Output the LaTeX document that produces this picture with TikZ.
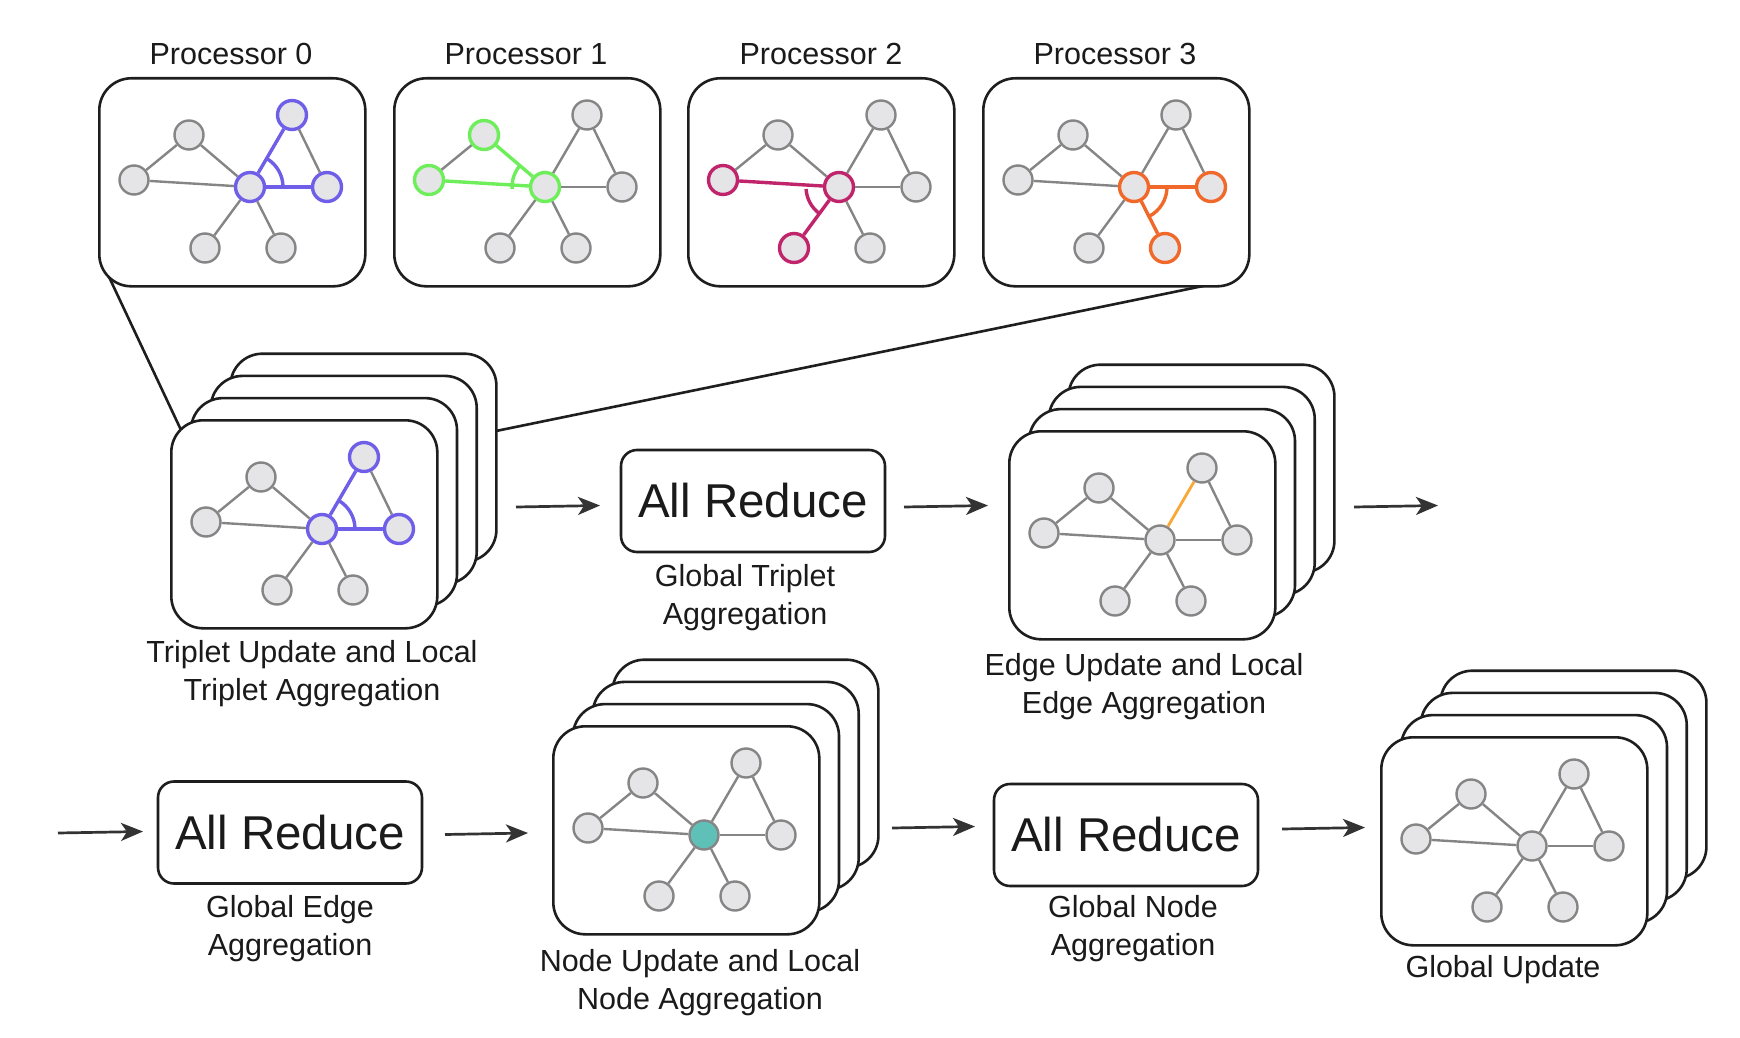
\documentclass[tikz,border=0pt]{standalone}
\usepackage{fontspec}
\setmainfont{Liberation Sans}
\usetikzlibrary{arrows.meta}
\definecolor{gedge}{HTML}{858585}
\definecolor{nfill}{HTML}{E5E5E8}
\definecolor{boxc}{HTML}{1E1E1E}
\definecolor{txt}{HTML}{1A1A1A}
\definecolor{arrc}{HTML}{333333}
\definecolor{purp}{HTML}{6F5FE8}
\definecolor{grn}{HTML}{6EEE5A}
\definecolor{crim}{HTML}{C0256B}
\definecolor{orng}{HTML}{F0692A}
\definecolor{yorng}{HTML}{F7A836}
\definecolor{teal}{HTML}{5FC0B8}
\tikzset{
  gnode/.style={circle, draw=gedge, fill=nfill, line width=2.4pt, minimum size=29pt, inner sep=0pt},
  gline/.style={draw=gedge, line width=2.4pt},
  pbox/.style={draw=boxc, fill=white, line width=2.6pt, rounded corners=32pt, minimum width=266pt, minimum height=208pt, anchor=north west, inner sep=0pt},
  rbox/.style={draw=boxc, fill=white, line width=2.6pt, rounded corners=16pt, minimum width=264pt, minimum height=102pt, inner sep=0pt, font=\fontsize{47.5}{56}\selectfont, text=txt},
  lbl/.style={font=\fontsize{30.5}{37.5}\selectfont, text=txt, align=center},
  flow/.style={draw=arrc, line width=2.7pt, -{Stealth[length=22pt, width=18pt, inset=6pt]}},
  link/.style={draw=boxc, line width=2.6pt},
  nTL/.style={}, nL/.style={}, nC/.style={}, nTR/.style={}, nR/.style={}, nBL/.style={}, nBR/.style={},
  eTLL/.style={}, eTLC/.style={}, eLC/.style={}, eCTR/.style={}, eTRR/.style={}, eCR/.style={}, eCBL/.style={}, eCBR/.style={},
  hln/.style={draw=#1, line width=3.4pt},
  hle/.style={draw=#1, line width=3.4pt},
  hla/.style={draw=#1, line width=3.4pt},
}
\newcommand{\gnet}[3]{%
\begin{scope}[shift={(#2,#3)}]
 \node[gnode,nTL] (#1TL) at (91,58) {};
 \node[gnode,nL] (#1L) at (36,103) {};
 \node[gnode,nC] (#1C) at (152,110) {};
 \node[gnode,nTR] (#1TR) at (194,38) {};
 \node[gnode,nR] (#1R) at (229,110) {};
 \node[gnode,nBL] (#1BL) at (107,171) {};
 \node[gnode,nBR] (#1BR) at (183,171) {};
 \draw[gline,eTLL] (#1TL) -- (#1L);
 \draw[gline,eTLC] (#1TL) -- (#1C);
 \draw[gline,eLC] (#1L) -- (#1C);
 \draw[gline,eCTR] (#1C) -- (#1TR);
 \draw[gline,eTRR] (#1TR) -- (#1R);
 \draw[gline,eCR] (#1C) -- (#1R);
 \draw[gline,eCBL] (#1C) -- (#1BL);
 \draw[gline,eCBR] (#1C) -- (#1BR);
\end{scope}}
\newcommand{\stackbox}[3]{%
 \node[pbox] (#1d) at (#2+59.1,#3-66.6) {};
 \node[pbox] (#1c) at (#2+39.4,#3-44.4) {};
 \node[pbox] (#1b) at (#2+19.7,#3-22.2) {};
 \node[pbox] (#1a) at (#2,#3) {};}
\begin{document}
\begin{tikzpicture}[x=1pt,y=-1pt]
\useasboundingbox[fill=white] (0,0) rectangle (1740,1038);

% links from processors to triplet stack
\coordinate (c0a) at (102,262);
\coordinate (c0b) at (181,430);
\coordinate (c3a) at (1208,285);
\coordinate (c3b) at (496,431);
\draw[link] (c0a) -- (c0b);
\draw[link] (c3a) -- (c3b);

% processor boxes
\node[pbox] (p0box) at (98,77) {};
\node[pbox] (p1box) at (393,77) {};
\node[pbox] (p2box) at (687,77) {};
\node[pbox] (p3box) at (982,77) {};
\node[lbl] (p0lab) at (231,54.5) {Processor 0};
\node[lbl] (p1lab) at (526,54.5) {Processor 1};
\node[lbl] (p2lab) at (821,54.5) {Processor 2};
\node[lbl] (p3lab) at (1115,54.5) {Processor 3};

\begin{scope}[nC/.style={hln=purp}, nTR/.style={hln=purp}, nR/.style={hln=purp}, eCTR/.style={hle=purp}, eCR/.style={hle=purp}]
 \gnet{pa}{98}{77}
\end{scope}
\draw[hla=purp] (paC.center) ++(0:33) arc[start angle=0, end angle=-60, radius=33];

\begin{scope}[nC/.style={hln=grn}, nTL/.style={hln=grn}, nL/.style={hln=grn}, eTLC/.style={hle=grn}, eLC/.style={hle=grn}]
 \gnet{pb}{393}{77}
\end{scope}
\draw[hla=grn] (pbC.center) ++(-139.6:33) arc[start angle=-139.6, end angle=-183.5, radius=33];

\begin{scope}[nC/.style={hln=crim}, nL/.style={hln=crim}, nBL/.style={hln=crim}, eLC/.style={hle=crim}, eCBL/.style={hle=crim}]
 \gnet{pc}{687}{77}
\end{scope}
\draw[hla=crim] (pcC.center) ++(-183.5:33) arc[start angle=-183.5, end angle=-233.6, radius=33];

\begin{scope}[nC/.style={hln=orng}, nR/.style={hln=orng}, nBR/.style={hln=orng}, eCR/.style={hle=orng}, eCBR/.style={hle=orng}]
 \gnet{pd}{982}{77}
\end{scope}
\draw[hla=orng] (pdC.center) ++(63:33) arc[start angle=63, end angle=0, radius=33];

% triplet stack
\stackbox{ts}{170}{419}
\begin{scope}[nC/.style={hln=purp}, nTR/.style={hln=purp}, nR/.style={hln=purp}, eCTR/.style={hle=purp}, eCR/.style={hle=purp}]
 \gnet{tg}{170}{419}
\end{scope}
\draw[hla=purp] (tgC.center) ++(0:33) arc[start angle=0, end angle=-60, radius=33];
\node[lbl] (tslab) at (312,673.5) {Triplet Update and Local\\Triplet Aggregation};

% all reduce 1
\node[rbox] (ar1) at (753,501) {All Reduce};
\node[lbl] (ar1lab) at (745,597.5) {Global Triplet\\Aggregation};

% edge stack
\stackbox{es}{1008}{430}
\begin{scope}[eCTR/.style={hle=yorng, line width=2.8pt}]
 \gnet{eg}{1008}{430}
\end{scope}
\node[lbl] (eslab) at (1144,686.5) {Edge Update and Local\\Edge Aggregation};

% all reduce 2
\node[rbox] (ar2) at (290,832.5) {All Reduce};
\node[lbl] (ar2lab) at (290,928.5) {Global Edge\\Aggregation};

% node stack
\stackbox{ns}{552}{725}
\begin{scope}[nC/.style={fill=teal}]
 \gnet{ng}{552}{725}
\end{scope}
\node[lbl] (nslab) at (700,982.5) {Node Update and Local\\Node Aggregation};

% all reduce 3
\node[rbox] (ar3) at (1126,835) {All Reduce};
\node[lbl] (ar3lab) at (1133,928.5) {Global Node\\Aggregation};

% global update stack
\stackbox{gs}{1380}{736}
\gnet{gg}{1380}{736}
\node[lbl] (gslab) at (1503,969.5) {Global Update};

% flow arrows
\coordinate (a1s) at (516,507); \coordinate (a1e) at (600,505.5);
\coordinate (a2s) at (904,507); \coordinate (a2e) at (988,505.5);
\coordinate (a3s) at (1354,507); \coordinate (a3e) at (1438,505.5);
\coordinate (a4s) at (58,833); \coordinate (a4e) at (143,831.5);
\coordinate (a5s) at (445,834.5); \coordinate (a5e) at (528,833);
\coordinate (a6s) at (892,828); \coordinate (a6e) at (975,826.5);
\coordinate (a7s) at (1282,829); \coordinate (a7e) at (1365,827.5);
\draw[flow] (a1s) -- (a1e);
\draw[flow] (a2s) -- (a2e);
\draw[flow] (a3s) -- (a3e);
\draw[flow] (a4s) -- (a4e);
\draw[flow] (a5s) -- (a5e);
\draw[flow] (a6s) -- (a6e);
\draw[flow] (a7s) -- (a7e);
\end{tikzpicture}
\end{document}
